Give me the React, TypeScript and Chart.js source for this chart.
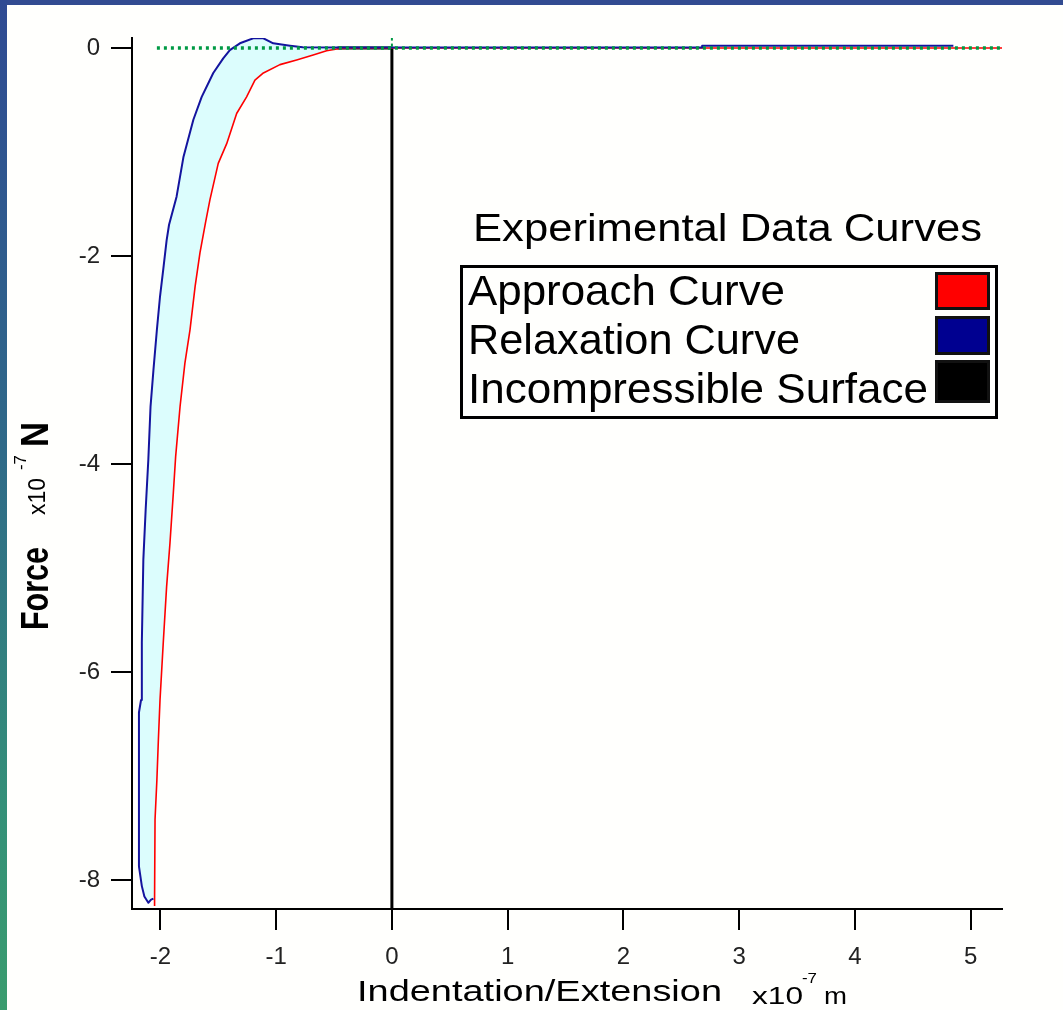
import React, { useEffect, useRef } from "react";
import { Chart, registerables } from "chart.js";

Chart.register(...registerables);

// ---- Data (x in 1e-7 m, y in 1e-7 N) ----
const relaxationX = [-2.06, -2.08, -2.104, -2.138, -2.16, -2.185, -2.185, -2.167, -2.16, -2.147, -2.127, -2.104, -2.085, -2.06, -2.03, -2.003, -1.975, -1.946, -1.925, -1.86, -1.80, -1.715, -1.643, -1.543, -1.457, -1.40, -1.313, -1.198, -1.11, -1.025, -0.88, -0.77, -0.45, 2.68, 2.68, 4.85];
const relaxationY = [-8.18, -8.19, -8.22, -8.16, -8.06, -7.87, -6.39, -6.27, -5.72, -4.92, -4.44, -3.96, -3.45, -3.10, -2.71, -2.39, -2.13, -1.85, -1.70, -1.43, -1.045, -0.69, -0.47, -0.24, -0.10, -0.02, 0.045, 0.093, 0.093, 0.045, 0.022, 0.007, 0.004, 0.004, 0.022, 0.022];

const approachX = [-2.05, -2.05, -2.046, -2.03, -2.017, -2.003, -1.975, -1.946, -1.917, -1.888, -1.868, -1.83, -1.788, -1.744, -1.70, -1.658, -1.61, -1.572, -1.50, -1.427, -1.341, -1.255, -1.183, -1.11, -0.967, -0.823, -0.68, -0.564, -0.45, -0.3, 5.29];
const approachY = [-8.25, -8.19, -7.42, -7.04, -6.65, -6.27, -5.72, -5.18, -4.76, -4.28, -3.93, -3.45, -3.03, -2.71, -2.295, -1.97, -1.68, -1.46, -1.11, -0.92, -0.63, -0.47, -0.31, -0.24, -0.16, -0.115, -0.067, -0.026, -0.005, 0, 0];

const surfaceX = [-0.47, 0, 0];
const surfaceY = [0, 0, -8.28];

const baselineX = [-2.03, 5.29];
const baselineY = [0, 0];

const zeroMarkX = [0, 0];
const zeroMarkY = [0.1, 0];

const xTickValues = [-2, -1, 0, 1, 2, 3, 4, 5];
const yTickValues = [0, -2, -4, -6, -8];

const legendTitle = "Experimental Data Curves";
const legendLabels = ["Approach Curve", "Relaxation Curve", "Incompressible Surface"];
const legendColors = ["#ff0000", "#000090", "#000000"];

const FONT = '"Liberation Sans", Arial, Helvetica, sans-serif';

const pts = (xs: number[], ys: number[]) => xs.map((v, i) => ({ x: v, y: ys[i] }));

function fitText(
  ctx: CanvasRenderingContext2D,
  text: string,
  font: string,
  x: number,
  y: number,
  width: number,
  hScale = 1,
  rotate = 0,
  color = "#000"
) {
  ctx.save();
  ctx.font = font;
  ctx.fillStyle = color;
  ctx.textAlign = "left";
  ctx.textBaseline = "alphabetic";
  const w = ctx.measureText(text).width;
  ctx.translate(x, y);
  if (rotate) ctx.rotate(rotate);
  ctx.scale(width / w, hScale);
  ctx.fillText(text, 0, 0);
  ctx.restore();
}

const bandFill = {
  id: "bandFill",
  beforeDatasetsDraw(chart: any) {
    const { ctx, chartArea, scales } = chart;
    const xs = scales.x;
    const ys = scales.y;
    ctx.save();
    ctx.beginPath();
    ctx.rect(chartArea.left, chartArea.top, chartArea.right - chartArea.left, chartArea.bottom - chartArea.top);
    ctx.clip();
    ctx.beginPath();
    let first = true;
    relaxationX.forEach((vx, i) => {
      if (vx <= -0.45) {
        const px = xs.getPixelForValue(vx);
        const py = ys.getPixelForValue(relaxationY[i]);
        if (first) ctx.moveTo(px, py);
        else ctx.lineTo(px, py);
        first = false;
      }
    });
    for (let i = approachX.length - 1; i >= 0; i--) {
      if (approachX[i] <= -0.3) {
        ctx.lineTo(xs.getPixelForValue(approachX[i]), ys.getPixelForValue(approachY[i]));
      }
    }
    ctx.closePath();
    ctx.fillStyle = "#dcfdfd";
    ctx.fill();
    ctx.restore();
  },
};

const decorations = {
  id: "decorations",
  afterDraw(chart: any) {
    const ctx: CanvasRenderingContext2D = chart.ctx;
    // Y axis title (rotated)
    fitText(ctx, "Force", `bold 30px ${FONT}`, 41, 625, 83, 1.3, -Math.PI / 2);
    fitText(ctx, "x10", `20px ${FONT}`, 38, 510, 37, 1.2, -Math.PI / 2);
    fitText(ctx, "-7", `14px ${FONT}`, 19, 465, 15, 1.2, -Math.PI / 2);
    fitText(ctx, "N", `bold 30px ${FONT}`, 41, 442, 25, 1.3, -Math.PI / 2);

    // X axis title
    fitText(ctx, "Indentation/Extension", `29px ${FONT}`, 350, 996, 365);
    fitText(ctx, "x10", `23px ${FONT}`, 745, 999, 51);
    fitText(ctx, "-7", `14px ${FONT}`, 795, 978, 15);
    fitText(ctx, "m", `23px ${FONT}`, 817, 999, 23);

    // Legend
    fitText(ctx, legendTitle, `38px ${FONT}`, 466, 236, 509);
    ctx.save();
    ctx.strokeStyle = "#000";
    ctx.lineWidth = 3;
    ctx.strokeRect(454.5, 261.5, 535, 151);
    ctx.restore();
    const baselines = [300, 349, 398];
    const widths = [317, 332, 460];
    const boxes = [
      [928, 267, 55, 38],
      [928, 311, 55, 39],
      [928, 355, 55, 43],
    ];
    legendLabels.forEach((lab, i) => {
      fitText(ctx, lab, `42px ${FONT}`, 461, baselines[i], widths[i]);
      const [bx, by, bw, bh] = boxes[i];
      ctx.save();
      ctx.fillStyle = "#111";
      ctx.fillRect(bx, by, bw, bh);
      ctx.fillStyle = legendColors[i];
      ctx.fillRect(bx + 3, by + 3, bw - 6, bh - 6);
      ctx.restore();
    });
  },
};

export default function App() {
  const canvasRef = useRef<HTMLCanvasElement | null>(null);

  useEffect(() => {
    const canvas = canvasRef.current;
    if (!canvas) return;
    const line = (label: string, data: any[], color: string, width: number, dash: number[] = []) => ({
      label,
      data,
      borderColor: color,
      backgroundColor: color,
      borderWidth: width,
      borderDash: dash,
      pointRadius: 0,
      tension: 0,
      fill: false,
      borderJoinStyle: "round" as const,
    });
    const chart = new Chart(canvas, {
      type: "line",
      data: {
        datasets: [
          line("Baseline", pts(baselineX, baselineY), "#009a44", 3.5, [3, 4]),
          line("Zero mark", pts(zeroMarkX, zeroMarkY), "#009a44", 2, [3, 3]),
          line("Relaxation Curve", pts(relaxationX, relaxationY), "#14149e", 2),
          line("Approach Curve", pts(approachX, approachY), "#ff0000", 1.6),
          line("Incompressible Surface", pts(surfaceX, surfaceY), "#000000", 3),
        ],
      },
      options: {
        animation: false,
        responsive: false,
        maintainAspectRatio: false,
        layout: { padding: { top: 33, right: 61, left: 0, bottom: 0 } },
        plugins: { legend: { display: false }, tooltip: { enabled: false } },
        scales: {
          x: {
            type: "linear",
            min: -2.245,
            max: 5.27,
            afterBuildTicks: (s: any) => {
              s.ticks = xTickValues.map((v) => ({ value: v }));
            },
            afterFit: (s: any) => {
              s.height = 101;
            },
            grid: { drawOnChartArea: false, drawTicks: true, tickLength: 21, color: "#000", lineWidth: 2 },
            border: { display: true, color: "#000", width: 2 },
            ticks: {
              padding: 13,
              color: "#222",
              font: { family: FONT, size: 24 },
              callback: (v: any) => String(v),
              maxRotation: 0,
              autoSkip: false,
            },
          },
          y: {
            type: "linear",
            min: -8.28,
            max: 0.096,
            afterBuildTicks: (s: any) => {
              s.ticks = yTickValues.map((v) => ({ value: v }));
            },
            afterFit: (s: any) => {
              s.width = 125;
            },
            grid: { drawOnChartArea: false, drawTicks: true, tickLength: 21, color: "#000", lineWidth: 2 },
            border: { display: true, color: "#000", width: 2 },
            ticks: {
              padding: 11,
              color: "#222",
              font: { family: FONT, size: 24 },
              callback: (v: any) => String(v),
              autoSkip: false,
            },
          },
        },
      },
      plugins: [bandFill, decorations],
    } as any);
    return () => chart.destroy();
  }, []);

  return (
    <div style={{ position: "fixed", left: 0, top: 0, width: 1063, height: 1010, background: "#fff", overflow: "hidden" }}>
      <div style={{ position: "absolute", left: 0, top: 0, width: 1063, height: 5, background: "#324b91" }} />
      <div
        style={{
          position: "absolute",
          left: 0,
          top: 0,
          width: 7,
          height: 1010,
          background: "linear-gradient(to bottom, #2f4a93 0%, #2f6a88 45%, #349078 80%, #3a9c6e 100%)",
        }}
      />
      <canvas
        ref={canvasRef}
        width={1056}
        height={1005}
        style={{ position: "absolute", left: 7, top: 5, width: 1056, height: 1005, background: "#fffffd" }}
      />
    </div>
  );
}
